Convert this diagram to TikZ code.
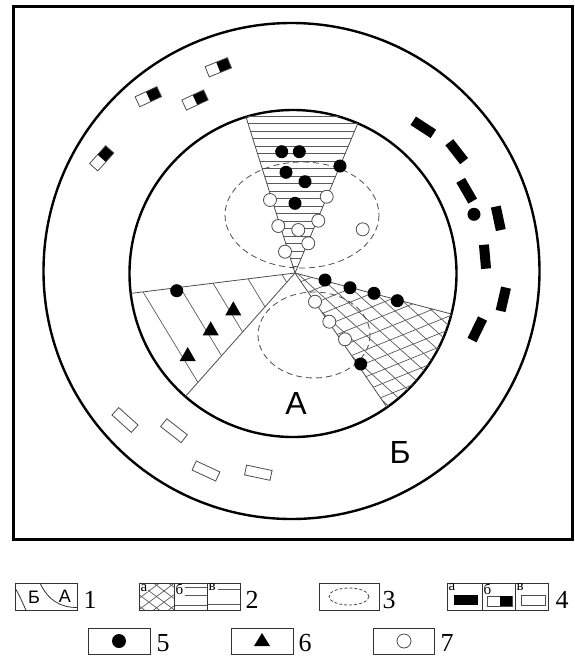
\documentclass[tikz,border=0pt]{standalone}
\usepackage{fontspec}
\setmainfont{Liberation Serif}
\newfontfamily\sansf{Liberation Sans}
\begin{document}
\begin{tikzpicture}[x=1pt,y=-1pt,
  thickc/.style={line width=2.4pt},
  hatch/.style={line width=0.7pt, black!65},
  sect/.style={line width=0.8pt, black!70},
  bdot/.style={fill=black},
  wdot/.style={fill=white, draw=black!70, line width=0.8pt},
  ell/.style={dash pattern=on 6pt off 4pt, line width=0.8pt, black!70},
  lbox/.style={draw=black!80, line width=0.9pt},
  bigl/.style={font=\sansf\fontsize{32}{32}\selectfont, inner sep=0pt},
  num/.style={font=\fontsize{26}{26}\selectfont, inner sep=0pt},
  sub/.style={font=\fontsize{15}{15}\selectfont, inner sep=0pt, anchor=north west},
  recta/.style={fill=black},
  rectv/.style={draw=black!70, line width=0.8pt, fill=white},
]
\useasboundingbox (0,0) rectangle (575,662);
\draw[line width=3pt] (13,6) rectangle (572,539);

\coordinate (CO) at (291.5,271);
\coordinate (CI) at (293,273.5);
\coordinate (O) at (295,273);

% circles
\draw[thickc] (CO) circle[radius=248];
\draw[thickc] (CI) circle[radius=163.5];

% top sector hatching
\begin{scope}
  \clip (CI) circle[radius=163.5];
  \clip (O) -- (221.5,39) -- (389.5,48) -- cycle;
  \foreach \yy in {116,123.5,...,272} \draw[hatch] (200,\yy) -- (400,\yy);
\end{scope}
% left sector hatching
\begin{scope}
  \clip (CI) circle[radius=163.5];
  \clip (O) -- (82.7,299.4) -- (154.2,431.6) -- cycle;
  \foreach \xx/\yy in {143/291.9,180/287.3,213/283.2,248/278.8,282/274.6}
    \draw[hatch] (\xx-54,\yy-89) -- (\xx+162,\yy+267);
\end{scope}
% cross hatching
\begin{scope}
  \clip (CI) circle[radius=163.5];
  \clip (O) -- (501,327) -- (421,457) -- cycle;
  \foreach \k in {-14,...,14} {
    \draw[hatch, rotate around={22:(390,340)}] (230,340+\k*12.5) -- (550,340+\k*12.5);
    \draw[hatch, rotate around={-42:(390,340)}] (230,340+\k*12.5) -- (550,340+\k*12.5);
  }
\end{scope}
% sector boundaries
\begin{scope}
  \clip (CI) circle[radius=163.5];
  \draw[sect] (O) -- (221.5,39);
  \draw[sect] (O) -- (389.5,48);
  \draw[sect] (O) -- (82.7,299.4);
  \draw[sect] (O) -- (154.2,431.6);
  \draw[sect] (O) -- (501,327);
  \draw[sect] (O) -- (421,457);
\end{scope}

% dashed ellipses
\draw[ell] (302,215) ellipse[x radius=77, y radius=53];
\draw[ell] (314,335) ellipse[x radius=56, y radius=43];

% white circles
\foreach \xx/\yy [count=\i] in {270/200,326.7/196.7,278.3/226,298.3/230,318.3/220.7,308.3/243.3,285/251.7,362.7/229.3,315/301.7,329.3/321.7,345/339.3}
  \node[circle, wdot, minimum size=13pt, inner sep=0pt] (w\i) at (\xx,\yy) {};
% black dots
\foreach \xx/\yy [count=\i] in {281.7/151.7,299.3/151.7,340/166,286/172.3,305/181.7,295/203.3,325/280,350/287.7,374/293.3,397.3/300.7,360.7/364,176.7/290.7,474/214.3}
  \node[circle, bdot, minimum size=13pt, inner sep=0pt] (b\i) at (\xx,\yy) {};
% triangles
\foreach \xx/\yy in {233.3/308.3,210.7/328.3,187.7/354}
  \fill (\xx-8,\yy+7) -- (\xx+8,\yy+7) -- (\xx,\yy-7) -- cycle;

% outer ring: type a (black dashes)
\foreach \xx/\yy/\aa in {423.3/127.3/-33,456.7/151.7/-52,466.7/190.7/-60,498.3/218.3/-78,485/256.7/-85,503.3/299.3/77,477.3/329.3/64}
  \fill[shift={(\xx,\yy)}, rotate=\aa] (-12,-5) rectangle (12,5);
% type b (half black)
\foreach \xx/\yy/\aa in {218.3/67.3/22,148.3/96.7/25,195/100/25,101.7/158.3/48}
  {\fill[shift={(\xx,\yy)}, rotate=\aa] (0,-5.5) rectangle (12,5.5);
   \draw[shift={(\xx,\yy)}, rotate=\aa, draw=black!70, line width=0.8pt] (-12,-5.5) rectangle (12,5.5);}
% type v (white)
\foreach \xx/\yy/\aa in {125/420/-42,174/430.7/-38,206/471/-25,258.3/472.7/-12}
  \draw[shift={(\xx,\yy)}, rotate=\aa, rectv] (-13,-5) rectangle (13,5);

% labels
\node[bigl] (lA) at (296,403) {А};
\node[bigl] (lB) at (400,452) {Б};

% ---------- legend ----------
% 1
\draw[lbox] (15,583) rectangle (77,610);
\draw[black!80, line width=0.8pt] (40,583) .. controls (48,600) and (60,607.5) .. (77,607.5);
\draw[black!80, line width=0.8pt] (15,588) .. controls (20,596) and (23,604) .. (26,610);
\node[font=\sansf\fontsize{18}{18}\selectfont, inner sep=0pt] (l1b) at (34,597) {Б};
\node[font=\sansf\fontsize{18}{18}\selectfont, inner sep=0pt] (l1a) at (65,596) {А};
\node[num] (n1) at (90,600) {1};
% 2
\begin{scope}
  \clip (139,583) rectangle (174,610);
  \foreach \k in {-3,...,3} {
    \draw[hatch] (156.5+\k*15-18,583) -- (156.5+\k*15+18,610);
    \draw[hatch] (156.5+\k*15+18,583) -- (156.5+\k*15-18,610);
  }
\end{scope}
\draw[hatch] (185,587.3) -- (207,587.3);
\draw[hatch] (185,595) -- (207,595);
\draw[hatch] (174,605.4) -- (207,605.4);
\draw[hatch] (218,589) -- (240,589);
\draw[hatch] (207,604.6) -- (240,604.6);
\draw[lbox] (139,583) rectangle (240,610);
\draw[lbox] (174,583) -- (174,610);
\draw[lbox] (207,583) -- (207,610);
\node[sub, fill=white, inner sep=0.5pt] (s2a) at (140,583.5) {а};
\node[sub] (s2b) at (175.5,583.5) {б};
\node[sub] (s2v) at (208.5,583.5) {в};
\node[num] (n2) at (252,600) {2};
% 3
\draw[lbox] (319,583) rectangle (379,610);
\draw[ell, dash pattern=on 3pt off 2pt] (349,596.5) ellipse[x radius=20, y radius=8.5];
\node[num] (n3) at (389,600) {3};
% 4
\draw[lbox] (447,583) rectangle (548,610);
\draw[lbox] (482,583) -- (482,610);
\draw[lbox] (515,583) -- (515,610);
\node[sub] (s4a) at (448.5,583.5) {а};
\node[sub] (s4b) at (483.5,583.5) {б};
\node[sub] (s4v) at (516.5,583.5) {в};
\fill (454,595) rectangle (478,605);
\draw[draw=black!70, line width=0.8pt] (487,596) rectangle (512,606);
\fill (500,596) rectangle (512,606);
\draw[rectv] (521,595) rectangle (545,605);
\node[num] (n4) at (562,600) {4};
% 5
\draw[lbox] (88,628) rectangle (150,654);
\node[circle, bdot, minimum size=14pt, inner sep=0pt] (d5) at (119,641) {};
\node[num] (n5) at (163,643) {5};
% 6
\draw[lbox] (231,628) rectangle (293,654);
\fill (254,646) -- (270,646) -- (262,633) -- cycle;
\node[num] (n6) at (305,643) {6};
% 7
\draw[lbox] (373,628) rectangle (434,654);
\node[circle, wdot, minimum size=14pt, inner sep=0pt] (d7) at (404,641) {};
\node[num] (n7) at (447,643) {7};
\end{tikzpicture}
\end{document}
